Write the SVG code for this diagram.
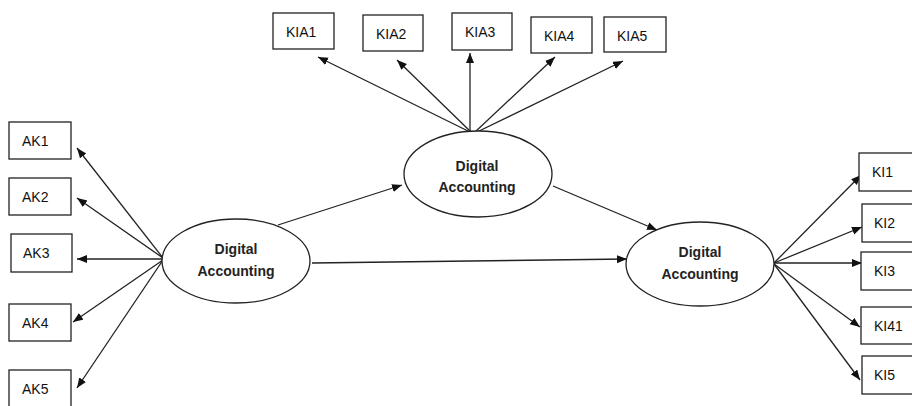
<svg xmlns="http://www.w3.org/2000/svg" width="912" height="406" viewBox="0 0 912 406">
<style>
.box{fill:#fff;stroke:#222;stroke-width:1.3}
.ell{fill:#fff;stroke:#222;stroke-width:1.3}
.lbl{font-family:"Liberation Sans",Arial,sans-serif;font-size:14px;fill:#111}
.lat{font-family:"Liberation Sans",Arial,sans-serif;font-size:14px;font-weight:bold;fill:#222;text-anchor:middle}
.con line{stroke:#222;stroke-width:1.3;fill:none;marker-end:url(#arr)}
</style>
<defs>
<marker id="arr" markerUnits="userSpaceOnUse" markerWidth="11" markerHeight="9" refX="10" refY="4" orient="auto">
<path d="M0,0 L10,4 L0,8 z" fill="#111"/>
</marker>
</defs>
<rect width="912" height="406" fill="#fff"/>
<g id="connectors" class="con">
<line x1="163" y1="258" x2="77" y2="148"/>
<line x1="163" y1="258" x2="77" y2="198"/>
<line x1="163" y1="259" x2="77" y2="259"/>
<line x1="163" y1="260" x2="73" y2="322"/>
<line x1="163" y1="260" x2="77" y2="388"/>
<line x1="472" y1="133" x2="318" y2="57"/>
<line x1="472" y1="133" x2="397" y2="60"/>
<line x1="470" y1="133" x2="470" y2="53"/>
<line x1="474" y1="133" x2="555" y2="57"/>
<line x1="475" y1="133" x2="623" y2="61"/>
<line x1="278" y1="225" x2="402" y2="185"/>
<line x1="553" y1="186" x2="657" y2="230"/>
<line x1="312" y1="263" x2="627" y2="259"/>
<line x1="774" y1="263" x2="861" y2="175"/>
<line x1="774" y1="263" x2="862" y2="227"/>
<line x1="774" y1="263" x2="862" y2="263"/>
<line x1="774" y1="264" x2="860" y2="327"/>
<line x1="774" y1="264" x2="860" y2="380"/>
</g>
<g id="AK1"><rect class="box" x="9" y="122" width="62" height="37"/><text class="lbl" x="22" y="146">AK1</text></g>
<g id="AK2"><rect class="box" x="9" y="178" width="62" height="37"/><text class="lbl" x="22" y="202">AK2</text></g>
<g id="AK3"><rect class="box" x="11" y="234" width="61" height="38"/><text class="lbl" x="23" y="258">AK3</text></g>
<g id="AK4"><rect class="box" x="9" y="304" width="62" height="37"/><text class="lbl" x="22" y="328">AK4</text></g>
<g id="AK5"><rect class="box" x="9" y="370" width="62" height="40"/><text class="lbl" x="22" y="394">AK5</text></g>
<g id="KIA1"><rect class="box" x="273" y="13" width="61" height="36"/><text class="lbl" x="286" y="37">KIA1</text></g>
<g id="KIA2"><rect class="box" x="363" y="15" width="60" height="36"/><text class="lbl" x="376" y="39">KIA2</text></g>
<g id="KIA3"><rect class="box" x="452" y="13" width="60" height="37"/><text class="lbl" x="465" y="37">KIA3</text></g>
<g id="KIA4"><rect class="box" x="531" y="17" width="61" height="36"/><text class="lbl" x="544" y="41">KIA4</text></g>
<g id="KIA5"><rect class="box" x="604" y="17" width="62" height="35"/><text class="lbl" x="617" y="41">KIA5</text></g>
<g id="KI1"><rect class="box" x="859" y="153" width="60" height="38"/><text class="lbl" x="872" y="177">KI1</text></g>
<g id="KI2"><rect class="box" x="862" y="204" width="60" height="38"/><text class="lbl" x="874" y="228">KI2</text></g>
<g id="KI3"><rect class="box" x="861" y="252" width="60" height="38"/><text class="lbl" x="874" y="276">KI3</text></g>
<g id="KI41"><rect class="box" x="861" y="307" width="60" height="37"/><text class="lbl" x="874" y="331">KI41</text></g>
<g id="KI5"><rect class="box" x="862" y="356" width="60" height="38"/><text class="lbl" x="874" y="380">KI5</text></g>
<g id="DA-left"><ellipse class="ell" cx="236" cy="261" rx="74" ry="42"/><text class="lat" x="236" y="254">Digital</text><text class="lat" x="236" y="276">Accounting</text></g>
<g id="DA-top"><ellipse class="ell" cx="478" cy="174" rx="74" ry="43"/><text class="lat" x="477" y="171">Digital</text><text class="lat" x="477" y="192">Accounting</text></g>
<g id="DA-right"><ellipse class="ell" cx="700" cy="264" rx="74" ry="42"/><text class="lat" x="700" y="257">Digital</text><text class="lat" x="700" y="279">Accounting</text></g>
</svg>
